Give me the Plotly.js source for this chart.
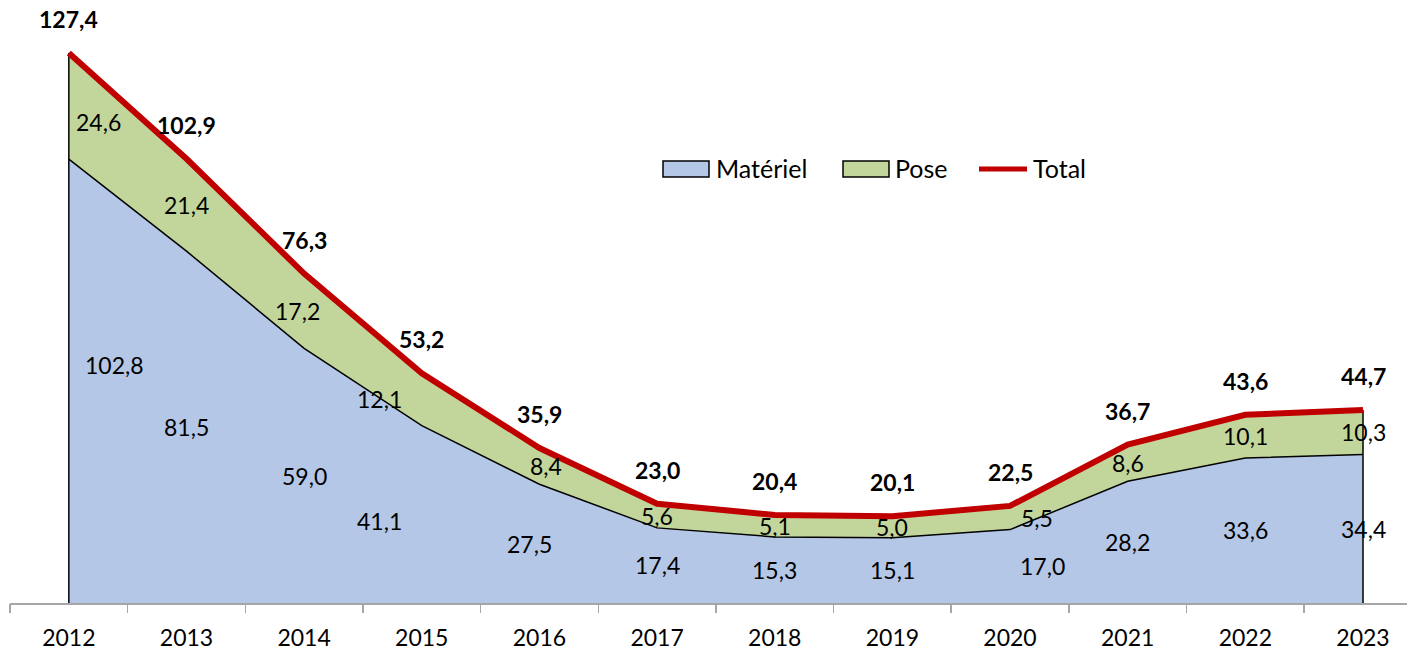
<!DOCTYPE html>
<html>
<head>
<meta charset="utf-8">
<script src="https://cdn.plot.ly/plotly-3.0.1.min.js"></script>
<style>html,body{margin:0;padding:0;background:#fff;}#chart{width:1407px;height:652px;}</style>
</head>
<body>
<div id="chart"></div>
<script>
const years = ['2012','2013','2014','2015','2016','2017','2018','2019','2020','2021','2022','2023'];
const materiel = [102.8, 81.5, 59.0, 41.1, 27.5, 17.4, 15.3, 15.1, 17.0, 28.2, 33.6, 34.4];
const pose = [24.6, 21.4, 17.2, 12.1, 8.4, 5.6, 5.1, 5.0, 5.5, 8.6, 10.1, 10.3];
const total = [127.4, 102.9, 76.3, 53.2, 35.9, 23.0, 20.4, 20.1, 22.5, 36.7, 43.6, 44.7];
const seriesNames = ['Matériel', 'Pose', 'Total'];

// label nudges (pixels), mimicking the original placement
const matShiftX = [46, 0, 0, -42, -10, 0, 0, 0, 32, 0, 0, 0];
const matShiftY = [16, 0, 0, -7, 0, 0, 0, 0, 0, 0, 0, 0];
const poseShiftX = [30, 0, -7, -42, 7, 0, 0, 0, 27, 0, 0, 0];
const poseShiftY = [-16, 0, 0, 0, 0, 0, 0, 0, 0, 0, 0, 0];

const COL_MAT = '#B4C7E7', COL_POSE = '#C2D69B', COL_TOT = '#C00000';
const FONT = 'Lato, "Open Sans", sans-serif';
const fmt = v => v.toFixed(1).replace('.', ',');
const idx = years.map((_, i) => i);

const traces = [
  {
    x: idx, y: materiel, name: seriesNames[0], type: 'scatter', mode: 'lines',
    stackgroup: 'one', fillcolor: COL_MAT,
    line: {color: '#000000', width: 1.5}, hoverinfo: 'skip', showlegend: false
  },
  {
    x: idx, y: pose, name: seriesNames[1], type: 'scatter', mode: 'lines',
    stackgroup: 'one', fillcolor: COL_POSE,
    line: {color: '#000000', width: 1}, hoverinfo: 'skip', showlegend: false
  },
  {
    x: [idx[0], idx[0]], y: [0, total[0]], type: 'scatter', mode: 'lines',
    line: {color: '#000000', width: 1.5}, showlegend: false, hoverinfo: 'skip'
  },
  {
    x: [idx[idx.length-1], idx[idx.length-1]], y: [0, total[total.length-1]], type: 'scatter', mode: 'lines',
    line: {color: '#000000', width: 1.5}, showlegend: false, hoverinfo: 'skip'
  },
  {
    x: idx, y: total, name: seriesNames[2], type: 'scatter', mode: 'lines',
    line: {color: COL_TOT, width: 6}, hoverinfo: 'skip', showlegend: false
  },
  // invisible trace to activate xaxis2 for boundary ticks
  {x: [0], y: [0], xaxis: 'x2', yaxis: 'y', mode: 'markers',
   marker: {opacity: 0}, showlegend: false, hoverinfo: 'skip'}
];

const annotations = [];
idx.forEach(i => {
  annotations.push({
    x: i, y: total[i], xref: 'x', yref: 'y', text: '<b>' + fmt(total[i]) + '</b>',
    showarrow: false, yshift: 34, font: {family: FONT, size: 23, color: '#000'}
  });
  annotations.push({
    x: i, y: materiel[i] + pose[i] / 2, xref: 'x', yref: 'y', text: fmt(pose[i]),
    showarrow: false, xshift: poseShiftX[i], yshift: poseShiftY[i],
    font: {family: FONT, size: 23, color: '#000'}
  });
  annotations.push({
    x: i, y: materiel[i] / 2, xref: 'x', yref: 'y', text: fmt(materiel[i]),
    showarrow: false, xshift: matShiftX[i], yshift: matShiftY[i],
    font: {family: FONT, size: 23, color: '#000'}
  });
});

// manual legend (pixel positions converted to paper coords)
const PL = 10, PW = 1397, PH = 603;
const px = v => (v - PL) / PW;
const py = v => 1 - v / PH;
const shapes = [
  {type: 'rect', xref: 'paper', yref: 'paper', x0: px(663), x1: px(709), y0: py(161), y1: py(177),
   fillcolor: COL_MAT, line: {color: '#000', width: 1.5}},
  {type: 'rect', xref: 'paper', yref: 'paper', x0: px(843), x1: px(889), y0: py(161), y1: py(177),
   fillcolor: COL_POSE, line: {color: '#000', width: 1.5}},
  {type: 'line', xref: 'paper', yref: 'paper', x0: px(979), x1: px(1027), y0: py(169), y1: py(169),
   line: {color: COL_TOT, width: 5}}
];
[[714, seriesNames[0]], [893, seriesNames[1]], [1031, seriesNames[2]]].forEach(([x, t]) => {
  annotations.push({xref: 'paper', yref: 'paper', x: px(x), y: py(168), xanchor: 'left', yanchor: 'middle',
    text: t, showarrow: false, font: {family: FONT, size: 25, color: '#000'}});
});

const layout = {
  width: 1407, height: 652,
  margin: {l: 10, r: 0, t: 0, b: 49},
  paper_bgcolor: '#ffffff', plot_bgcolor: '#ffffff',
  font: {family: FONT, size: 22, color: '#000'},
  showlegend: false,
  xaxis: {
    type: 'linear', range: [-0.5, 11.374],
    tickmode: 'array', tickvals: idx, ticktext: years,
    showline: true, linecolor: '#A6A6A6', linewidth: 1.5,
    ticks: '', showgrid: false, zeroline: false,
    tickfont: {family: FONT, size: 23, color: '#000'},
    ticklabelstandoff: 14
  },
  xaxis2: {
    overlaying: 'x', matches: 'x', range: [-0.5, 11.374], type: 'linear',
    tickmode: 'array', tickvals: idx.map(i => i - 0.5).concat([idx.length - 0.5]),
    ticks: 'outside', ticklen: 9, tickcolor: '#A6A6A6', tickwidth: 1.5,
    showticklabels: false, showgrid: false, zeroline: false, showline: false,
    anchor: 'y', side: 'bottom'
  },
  yaxis: {
    range: [0, 139.68], visible: false, showgrid: false, zeroline: false
  },
  shapes: shapes,
  annotations: annotations
};

Plotly.newPlot('chart', traces, layout, {staticPlot: true, displayModeBar: false});
</script>
</body>
</html>
